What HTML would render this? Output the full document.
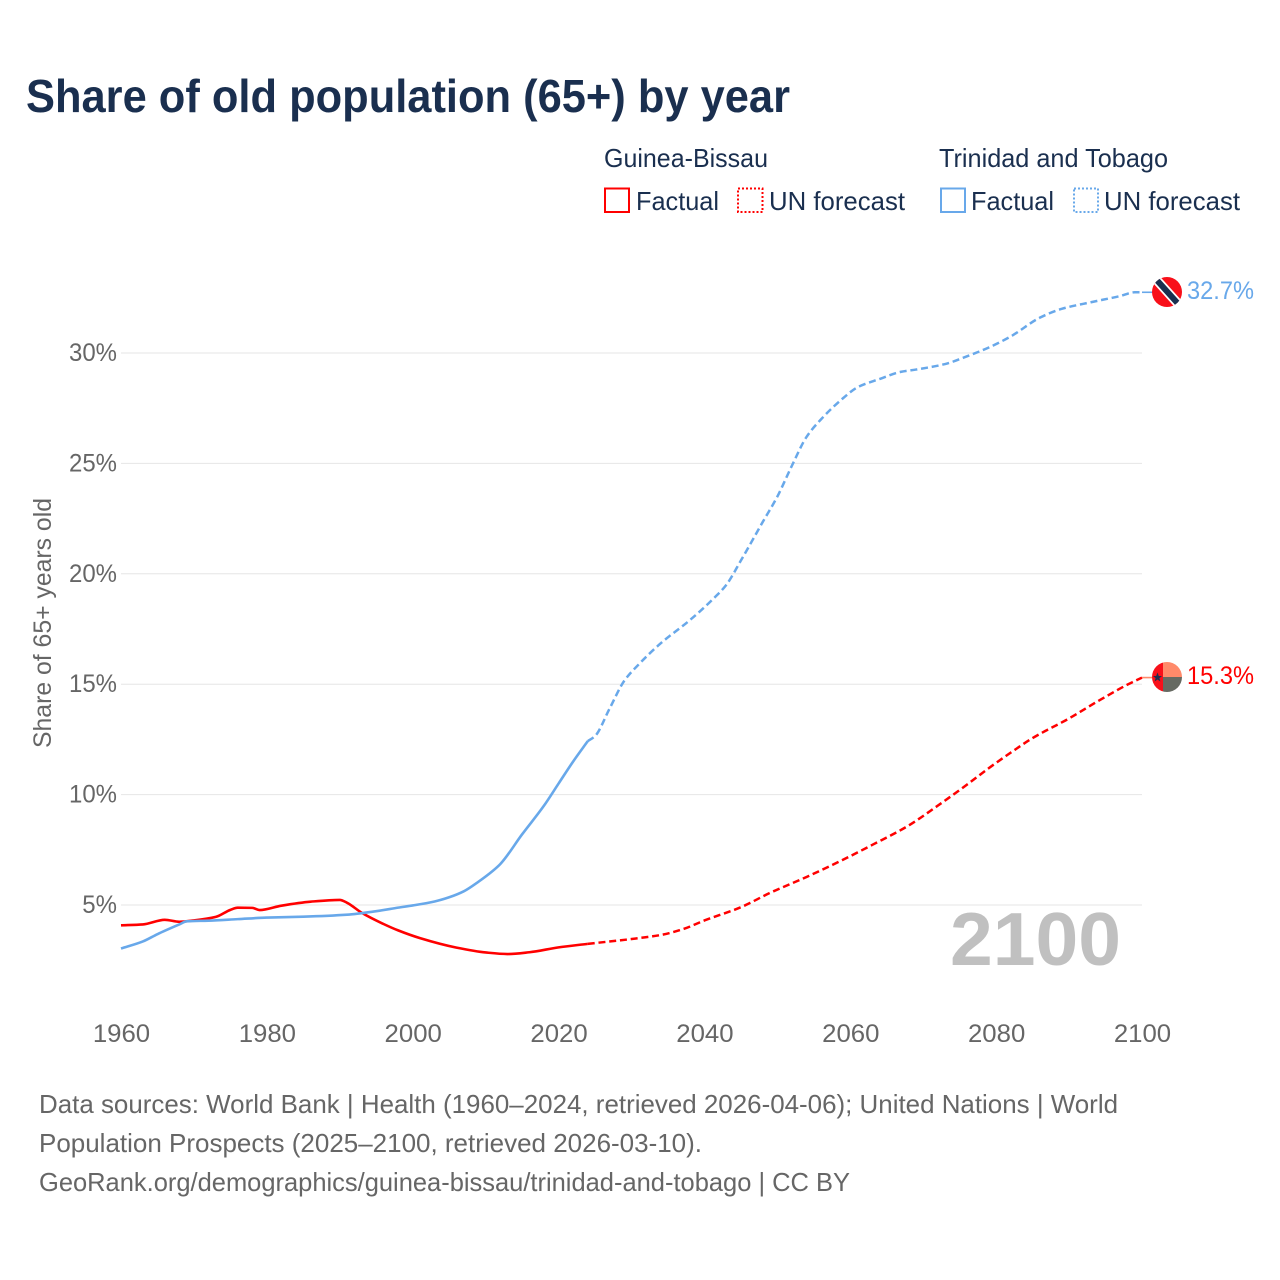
<!DOCTYPE html>
<html lang="en">
<head>
<meta charset="utf-8">
<title>Share of old population (65+) by year</title>
<style>
html,body{margin:0;padding:0;background:#fff}
svg{display:block}
text{font-family:"Liberation Sans",sans-serif}
</style>
</head>
<body>
<svg id="chart" xmlns="http://www.w3.org/2000/svg" width="1280" height="1280" viewBox="0 0 1280 1280">
  <defs>
    <clipPath id="clip-tt"><circle cx="1167" cy="292" r="15"/></clipPath>
    <clipPath id="clip-gb"><circle cx="1167" cy="677" r="15"/></clipPath>
  </defs>
  <rect width="1280" height="1280" fill="#fff"/>
  <text x="26" y="112" font-size="46" font-weight="700" fill="#1a2f4f" textLength="764" lengthAdjust="spacingAndGlyphs">Share of old population (65+) by year</text>

  <g font-size="26" fill="#1a2f4f">
    <text x="604" y="167" textLength="164" lengthAdjust="spacingAndGlyphs">Guinea-Bissau</text>
    <text x="939" y="167" textLength="229" lengthAdjust="spacingAndGlyphs">Trinidad and Tobago</text>
    <rect x="605" y="188.5" width="24" height="23.5" fill="none" stroke="#ff0000" stroke-width="2"/>
    <text x="636" y="210" textLength="83" lengthAdjust="spacingAndGlyphs">Factual</text>
    <rect x="738" y="188.5" width="24.5" height="23.5" fill="none" stroke="#ff0000" stroke-width="2" stroke-dasharray="2 2"/>
    <text x="769" y="210" textLength="136" lengthAdjust="spacingAndGlyphs">UN forecast</text>
    <rect x="941" y="188.5" width="24" height="23.5" fill="none" stroke="#68a8ea" stroke-width="2"/>
    <text x="971" y="210" textLength="83" lengthAdjust="spacingAndGlyphs">Factual</text>
    <rect x="1074" y="188.5" width="24" height="23.5" fill="none" stroke="#68a8ea" stroke-width="2" stroke-dasharray="2 2"/>
    <text x="1104" y="210" textLength="136" lengthAdjust="spacingAndGlyphs">UN forecast</text>
  </g>

  <g id="grid"></g>
  <g id="y-ticks"></g>
  <g id="x-ticks"></g>
  <text transform="translate(51,623) rotate(-90)" text-anchor="middle" font-size="25" fill="#666" textLength="250" lengthAdjust="spacingAndGlyphs">Share of 65+ years old</text>

  <text x="950" y="965" font-size="75" font-weight="700" fill="#c0c0c0" textLength="171" lengthAdjust="spacingAndGlyphs">2100</text>

  <g id="series"></g>

  <g id="badge-gb">
    <g clip-path="url(#clip-gb)">
      <rect x="1152" y="662" width="11" height="30" fill="#f8101a"/>
      <rect x="1163" y="662" width="19" height="15" fill="#ff8a6a"/>
      <rect x="1163" y="677" width="19" height="15" fill="#666a62"/>
    </g>
    <polygon points="1157.5,672.5 1158.8,676 1162,676 1159.4,678.1 1160.4,681.5 1157.5,679.5 1154.6,681.5 1155.6,678.1 1153,676 1156.2,676" fill="#1a2f4f"/>
  </g>
  <g id="badge-tt">
    <g clip-path="url(#clip-tt)">
      <rect x="1152" y="277" width="30" height="30" fill="#f8101a"/>
      <line x1="1154" y1="277" x2="1181" y2="307" stroke="#fff" stroke-width="9.5"/>
      <line x1="1154" y1="277" x2="1181" y2="307" stroke="#1a2f4f" stroke-width="6"/>
    </g>
  </g>
  <text id="label-tt" x="1187" y="299" font-size="25" fill="#68a8ea" textLength="67" lengthAdjust="spacingAndGlyphs"></text>
  <text id="label-gb" x="1187" y="684" font-size="25" fill="#ff0000" textLength="67" lengthAdjust="spacingAndGlyphs"></text>

  <g font-size="26" fill="#666">
    <text x="39" y="1113" textLength="1079" lengthAdjust="spacingAndGlyphs">Data sources: World Bank | Health (1960–2024, retrieved 2026-04-06); United Nations | World</text>
    <text x="39" y="1152" textLength="663" lengthAdjust="spacingAndGlyphs">Population Prospects (2025–2100, retrieved 2026-03-10).</text>
    <text x="39" y="1191" textLength="811" lengthAdjust="spacingAndGlyphs">GeoRank.org/demographics/guinea-bissau/trinidad-and-tobago | CC BY</text>
  </g>
</svg>
<script>
const xTickYears = [1960, 1980, 2000, 2020, 2040, 2060, 2080, 2100];
const yTickValues = [5, 10, 15, 20, 25, 30];
const yTickLabels = ["5%", "10%", "15%", "20%", "25%", "30%"];
const lastFactualYear = 2024;
const lastFactualYearTT = 2024;

const gbYears = [1960,1963,1966,1968,1970,1973,1975,1976,1978,1979,1982,1986,1990,1991,1993,1996,1998,2001,2006,2010,2013,2016,2020,2024,2031,2034,2037,2040,2045,2049,2054,2059,2063,2068,2072,2076,2079,2082,2085,2090,2094,2098,2100];
const gbValues = [4.08,4.12,4.33,4.24,4.3,4.46,4.78,4.88,4.87,4.77,4.97,5.15,5.23,5.1,4.65,4.14,3.85,3.5,3.07,2.85,2.78,2.86,3.08,3.24,3.5,3.64,3.9,4.3,4.9,5.55,6.27,7.05,7.72,8.6,9.5,10.45,11.2,11.9,12.56,13.45,14.24,14.98,15.3];

const ttYears = [1960,1963,1965,1968,1969,1972,1976,1980,1985,1991,1995,1998,2000,2003,2005,2007,2009,2011,2012,2015,2018,2020,2022,2024,2025,2027,2029,2031,2034,2038,2041,2043,2045,2048,2050,2052,2054,2056,2059,2061,2064,2067,2069,2073,2076,2079,2082,2086,2089,2093,2097,2099,2100];
const ttValues = [3.03,3.35,3.68,4.12,4.26,4.29,4.36,4.43,4.47,4.56,4.72,4.88,4.98,5.16,5.35,5.62,6.05,6.55,6.85,8.2,9.5,10.5,11.5,12.42,12.65,13.9,15.15,15.9,16.85,17.9,18.8,19.5,20.6,22.35,23.5,24.9,26.2,27.0,27.95,28.45,28.82,29.15,29.25,29.5,29.85,30.25,30.75,31.6,32.0,32.3,32.58,32.75,32.75];

const gbEndLabel = "15.3%";
const ttEndLabel = "32.7%";

const NS = "http://www.w3.org/2000/svg";
function xScale(year) { return 121 + (year - 1960) * (1142 - 121) / 140; }
function yScale(value) { return 905 - (value - 5) * (905 - 353) / 25; }

const gridGroup = document.getElementById("grid");
const yTickGroup = document.getElementById("y-ticks");
const xTickGroup = document.getElementById("x-ticks");
const seriesGroup = document.getElementById("series");

yTickValues.forEach(function (v, i) {
  const line = document.createElementNS(NS, "line");
  
  
  line.setAttribute("x1", xScale(1960));
  line.setAttribute("x2", xScale(2100));
  line.setAttribute("y1", yScale(v));
  line.setAttribute("y2", yScale(v));
  line.setAttribute("stroke", "#e6e6e6");
  line.setAttribute("stroke-width", "1");
  gridGroup.appendChild(line);

  const label = document.createElementNS(NS, "text");
  
  
  label.setAttribute("x", 117);
  label.setAttribute("y", yScale(v) + 8);
  label.setAttribute("text-anchor", "end");
  label.setAttribute("font-size", "25");
  label.setAttribute("fill", "#666");
  label.textContent = yTickLabels[i];
  yTickGroup.appendChild(label);
  label.setAttribute("lengthAdjust", "spacingAndGlyphs");
  label.setAttribute("textLength", (label.getComputedTextLength() * 0.96).toFixed(1));
});

xTickYears.forEach(function (year) {
  const label = document.createElementNS(NS, "text");
  
  
  label.setAttribute("x", xScale(year) + 0.5);
  label.setAttribute("y", 1042);
  label.setAttribute("text-anchor", "middle");
  label.setAttribute("font-size", "25");
  label.setAttribute("fill", "#666");
  label.textContent = String(year);
  xTickGroup.appendChild(label);
  label.setAttribute("lengthAdjust", "spacingAndGlyphs");
  label.setAttribute("textLength", (label.getComputedTextLength() * 1.03).toFixed(1));
});

/* monotone cubic path through the projected data points */
function smoothPath(pts) {
  const n = pts.length;
  if (n < 2) return "";
  const h = [], s = [], m = [];
  for (let i = 0; i < n - 1; i++) {
    h.push(pts[i + 1][0] - pts[i][0]);
    s.push((pts[i + 1][1] - pts[i][1]) / h[i]);
  }
  m.push(s[0]);
  for (let i = 1; i < n - 1; i++) {
    if (s[i - 1] * s[i] <= 0) {
      m.push(0);
    } else {
      const w1 = 2 * h[i] + h[i - 1];
      const w2 = h[i] + 2 * h[i - 1];
      m.push((w1 + w2) / (w1 / s[i - 1] + w2 / s[i]));
    }
  }
  m.push(s[n - 2]);
  let d = "M" + pts[0][0].toFixed(2) + "," + pts[0][1].toFixed(2);
  for (let i = 0; i < n - 1; i++) {
    const c = h[i] / 3;
    d += "C" + (pts[i][0] + c).toFixed(2) + "," + (pts[i][1] + m[i] * c).toFixed(2) + " " +
         (pts[i + 1][0] - c).toFixed(2) + "," + (pts[i + 1][1] - m[i + 1] * c).toFixed(2) + " " +
         pts[i + 1][0].toFixed(2) + "," + pts[i + 1][1].toFixed(2);
  }
  return d;
}

function pointsFor(years, values, test) {
  const pts = [];
  years.forEach(function (year, i) {
    if (test(year)) pts.push([xScale(year), yScale(values[i])]);
  });
  return pts;
}

function drawSeries(years, values, color, stubColor, splitYear, key) {
  const forecast = document.createElementNS(NS, "path");
  
  
  forecast.setAttribute("data-series", key);
  forecast.setAttribute("d", smoothPath(pointsFor(years, values, function (y) { return y >= splitYear; })));
  forecast.setAttribute("fill", "none");
  forecast.setAttribute("stroke", color);
  forecast.setAttribute("stroke-width", "2.5");
  forecast.setAttribute("stroke-dasharray", "7 3.8");
  seriesGroup.appendChild(forecast);

  const factual = document.createElementNS(NS, "path");
  
  
  factual.setAttribute("data-series", key);
  factual.setAttribute("d", smoothPath(pointsFor(years, values, function (y) { return y <= splitYear; })));
  factual.setAttribute("fill", "none");
  factual.setAttribute("stroke", color);
  factual.setAttribute("stroke-width", "2.6");
  factual.setAttribute("stroke-linejoin", "round");
  seriesGroup.appendChild(factual);

  const lastIndex = years.length - 1;
  const stub = document.createElementNS(NS, "line");
  
  
  stub.setAttribute("x1", xScale(years[lastIndex]));
  stub.setAttribute("x2", xScale(years[lastIndex]) + 11);
  stub.setAttribute("y1", yScale(values[lastIndex]));
  stub.setAttribute("y2", yScale(values[lastIndex]));
  stub.setAttribute("stroke", stubColor);
  stub.setAttribute("stroke-width", "1.6");
  seriesGroup.appendChild(stub);
}

drawSeries(gbYears, gbValues, "#ff0000", "#ff8a6a", lastFactualYear, "guinea-bissau");
drawSeries(ttYears, ttValues, "#68a8ea", "#68a8ea", lastFactualYearTT, "trinidad-and-tobago");

document.getElementById("label-tt").textContent = ttEndLabel;
document.getElementById("label-gb").textContent = gbEndLabel;
</script>
</body>
</html>
